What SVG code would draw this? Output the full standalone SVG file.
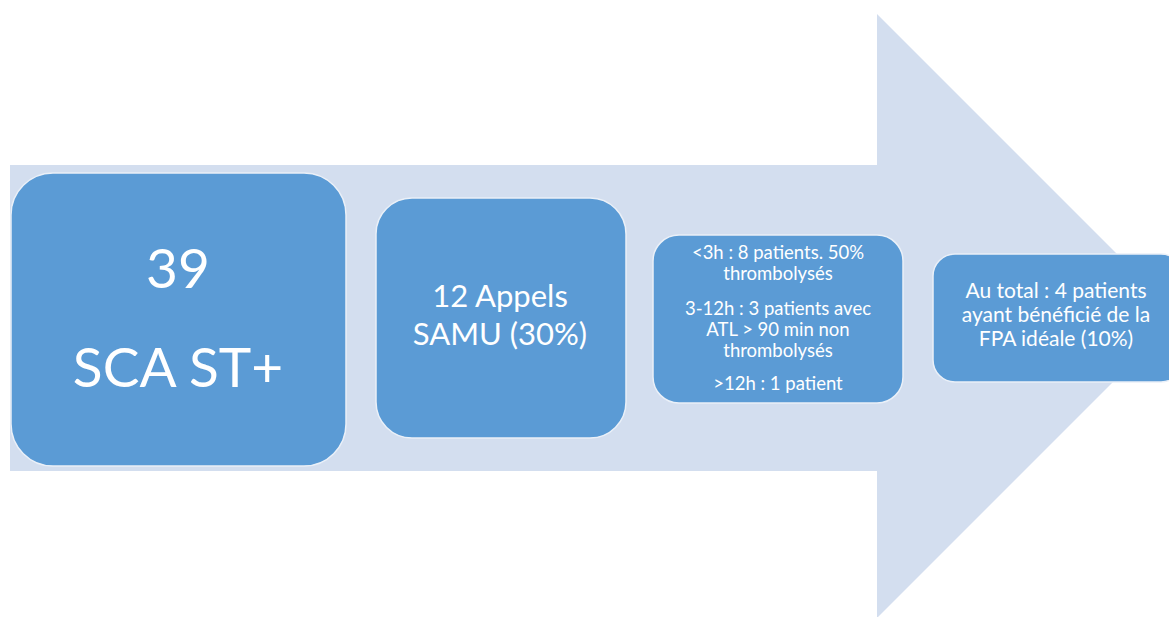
<svg xmlns="http://www.w3.org/2000/svg" width="1169" height="617" viewBox="0 0 1169 617">
<style>
.box{fill:#5B9BD5;stroke:#EAF0F8;stroke-width:1.5}
.t{fill:#FFFFFF;font-family:Lato,"Open Sans","Liberation Sans",sans-serif;text-anchor:middle}
</style>
<rect width="1169" height="617" fill="#FFFFFF"/>
<g id="arrow">
<polygon points="10,165 877,165 877,14 1179,316 877,618 877,471 10,471" fill="#D3DEEF"/>
</g>
<g id="node1">
<rect class="box" x="11" y="173" width="335" height="293" rx="42"/>
<text class="t" x="178" y="288" font-size="55">39</text>
<text class="t" x="178" y="387" font-size="55">SCA ST+</text>
</g>
<g id="node2">
<rect class="box" x="376" y="198" width="250" height="240" rx="36"/>
<text class="t" x="500" y="307" font-size="31">12 Appels</text>
<text class="t" x="500" y="345" font-size="31">SAMU (30%)</text>
</g>
<g id="node3">
<rect class="box" x="653" y="235" width="250" height="168" rx="26"/>
<text class="t" x="778" y="259" font-size="18.5">&lt;3h : 8 patients. 50%</text>
<text class="t" x="778" y="280" font-size="18.5">thrombolysés</text>
<text class="t" x="778" y="315" font-size="18.5">3-12h : 3 patients avec</text>
<text class="t" x="778" y="336" font-size="18.5">ATL &gt; 90 min non</text>
<text class="t" x="778" y="357" font-size="18.5">thrombolysés</text>
<text class="t" x="778" y="390" font-size="18.5">&gt;12h :  1 patient</text>
</g>
<g id="node4">
<rect class="box" x="933" y="254" width="250" height="128" rx="22"/>
<text class="t" x="1056" y="298" font-size="21">Au total : 4 patients</text>
<text class="t" x="1056" y="322" font-size="21">ayant bénéficié de la</text>
<text class="t" x="1056" y="346" font-size="21">FPA idéale (10%)</text>
</g>
<g id="connectors"/>
</svg>
